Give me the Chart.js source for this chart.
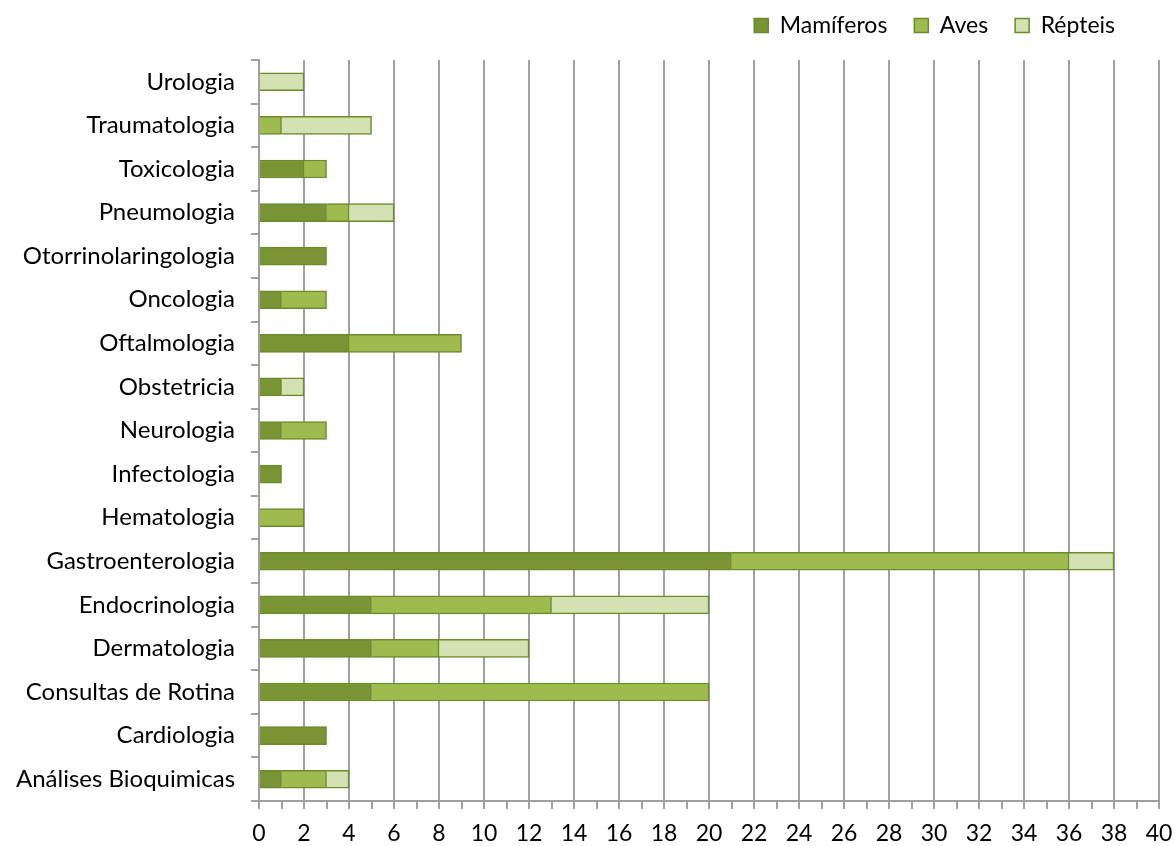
<!DOCTYPE html>
<html>
<head>
<meta charset="utf-8">
<script src="https://cdn.jsdelivr.net/npm/chart.js@4.4.1/dist/chart.umd.min.js"></script>
<style>
  body { margin: 0; background: #fff; }
  #wrap { width: 1175px; height: 846px; }
</style>
</head>
<body>
<div id="wrap"><canvas id="myChart"></canvas></div>
<script>
const categories = [
    'Urologia', 'Traumatologia', 'Toxicologia', 'Pneumologia', 'Otorrinolaringologia',
    'Oncologia', 'Oftalmologia', 'Obstetricia', 'Neurologia', 'Infectologia',
    'Hematologia', 'Gastroenterologia', 'Endocrinologia', 'Dermatologia',
    'Consultas de Rotina', 'Cardiologia', 'Análises Bioquimicas'
]
const mamiferos = [0, 0, 2, 3, 3, 1, 4, 1, 1, 1, 0, 21, 5, 5, 5, 3, 1]
const aves      = [0, 1, 1, 1, 0, 2, 5, 0, 2, 0, 2, 15, 8, 3, 15, 0, 2]
const repteis   = [2, 4, 0, 2, 0, 0, 0, 1, 0, 0, 0, 2, 7, 4, 0, 0, 1]
const xMax = 40

const family = "Lato, 'Open Sans', sans-serif"
const font = { family: family, size: 23 }
const gridGrey = '#a0a0a0'

// move the legend in from the right edge and up a little, like the original
const legendShift = {
    id: 'legendShift',
    afterLayout(chart) {
        chart.legend.left -= 33
        chart.legend.right -= 33
        chart.legend.top -= 13
        chart.legend.bottom -= 13
    }
}

var ctx = document.getElementById('myChart').getContext('2d');
var chart = new Chart(ctx, {
    type: 'bar',
    data: {
        labels: categories,
        datasets: [
            { label: 'Mamíferos', data: mamiferos, backgroundColor: '#789434', borderColor: '#6b8a2a', borderWidth: 1.5 },
            { label: 'Aves', data: aves, backgroundColor: '#9fbb50', borderColor: '#6b8a2a', borderWidth: 1.5 },
            { label: 'Répteis', data: repteis, backgroundColor: '#d3e1b3', borderColor: '#6b8a2a', borderWidth: 1.5 }
        ]
    },
    plugins: [legendShift],
    options: {
        indexAxis: 'y',
        responsive: true,
        maintainAspectRatio: false,
        animation: false,
        layout: { padding: { left: 0, right: 0, top: 0, bottom: 0 } },
        datasets: { bar: { barThickness: 18 } },
        plugins: {
            legend: {
                position: 'top',
                align: 'end',
                labels: { font: font, color: '#000', boxWidth: 14, boxHeight: 14, padding: 27 }
            },
            tooltip: { enabled: false }
        },
        scales: {
            x: {
                stacked: true,
                min: 0,
                max: xMax,
                afterFit: scale => {
                    scale.height = 45
                    scale.paddingRight = 16
                },
                ticks: {
                    stepSize: 1,
                    autoSkip: false,
                    maxRotation: 0,
                    font: { family: family, size: 23, lineHeight: 0.85 },
                    color: '#000',
                    padding: 15,
                    callback: v => (v % 2 === 0 ? v : '')
                },
                grid: {
                    color: c => (c.tick && c.tick.value % 2 === 0 ? gridGrey : 'rgba(0,0,0,0)'),
                    tickColor: gridGrey,
                    tickLength: 8,
                    lineWidth: 2
                },
                border: { color: gridGrey, width: 2 }
            },
            y: {
                stacked: true,
                ticks: { font: { family: family, size: 24 }, color: '#000', padding: 16 },
                grid: { offset: true, drawOnChartArea: false, tickLength: 8, color: gridGrey, lineWidth: 2 },
                border: { color: gridGrey, width: 2 }
            }
        }
    }
});
</script>
</body>
</html>
